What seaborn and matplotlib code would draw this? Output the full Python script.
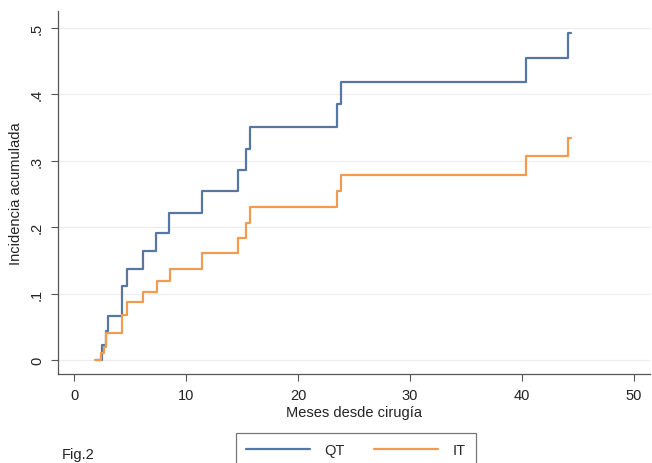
import numpy as np
import pandas as pd
import matplotlib
matplotlib.use("Agg")
import matplotlib.pyplot as plt
import seaborn as sns
from matplotlib.lines import Line2D

# Data
qt_time = [2.0, 2.5, 2.9, 3.05, 4.3, 4.7, 6.2, 7.3, 8.5, 11.4, 14.6, 15.4, 15.7, 23.5, 23.8, 40.4, 44.1, 44.4]
qt_inc = [0.0, 0.022, 0.044, 0.066, 0.111, 0.137, 0.164, 0.191, 0.221, 0.255, 0.286, 0.318, 0.351, 0.386, 0.419, 0.455, 0.492, 0.492]
it_time = [1.9, 2.45, 2.7, 2.9, 4.3, 4.75, 6.2, 7.4, 8.6, 11.4, 14.6, 15.4, 15.7, 23.5, 23.8, 40.4, 44.1, 44.4]
it_inc = [0.0, 0.01, 0.02, 0.04, 0.068, 0.087, 0.102, 0.119, 0.137, 0.161, 0.184, 0.206, 0.23, 0.254, 0.279, 0.307, 0.335, 0.335]
groups = ["QT", "IT"]
x_ticks = [0, 10, 20, 30, 40, 50]
y_ticks = [0, 0.1, 0.2, 0.3, 0.4, 0.5]
y_tick_labels = ["0", ".1", ".2", ".3", ".4", ".5"]

df = pd.DataFrame({
    "t": qt_time + it_time,
    "inc": qt_inc + it_inc,
    "grp": [groups[0]] * len(qt_time) + [groups[1]] * len(it_time),
})

sns.set_theme(style="white")
plt.rcParams["font.family"] = ["Liberation Sans", "DejaVu Sans"]

fig = plt.figure(figsize=(6.52, 4.64), dpi=100)
ax = fig.add_axes([58 / 652, 1 - 375 / 464, (650 - 58) / 652, (375 - 12) / 464])

palette = {"QT": "#5677a3", "IT": "#f29b4e"}
sns.lineplot(data=df, x="t", y="inc", hue="grp", palette=palette, ax=ax,
             drawstyle="steps-post", linewidth=1.6, legend=False, estimator=None, sort=False)

ax.set_xlim(-1.43, 51.43)
ax.set_ylim(-0.021, 0.5256)
ax.set_xticks(x_ticks)
ax.set_xticklabels([str(v) for v in x_ticks], fontsize=10.5, color="#222222")
ax.set_yticks(y_ticks)
ax.set_yticklabels(y_tick_labels, fontsize=10.5, rotation=90, va="center", color="#222222")
for y in y_ticks:
    ax.axhline(y, color="#ececec", linewidth=0.8, zorder=0)

ax.spines["top"].set_visible(False)
ax.spines["right"].set_visible(False)
for s in ["left", "bottom"]:
    ax.spines[s].set_color("#555555")
    ax.spines[s].set_linewidth(0.9)
ax.tick_params(axis="both", direction="out", length=5, width=0.8, color="#555555", pad=5,
               bottom=True, left=True)

ax.set_xlabel("Meses desde cirugía", fontsize=10.5, color="#222222", labelpad=2)
ax.set_ylabel("Incidencia acumulada", fontsize=10.5, color="#222222", labelpad=5)

handles = [Line2D([0], [0], color=palette[g], linewidth=1.6) for g in groups]
leg = fig.legend(handles, groups, loc="upper center", bbox_to_anchor=(356 / 652, 1 - 427 / 464),
                 ncol=2, frameon=True, fancybox=False, fontsize=10.5, handlelength=4.4,
                 columnspacing=2.0, borderpad=0.7, handletextpad=1.0)
leg.get_frame().set_edgecolor("#555555")
leg.get_frame().set_linewidth(0.9)

fig.text(62 / 652, 1 - 455 / 464, "Fig.2", fontsize=10.5, color="#222222", va="center", ha="left")

fig.savefig("out.png", dpi=100)
